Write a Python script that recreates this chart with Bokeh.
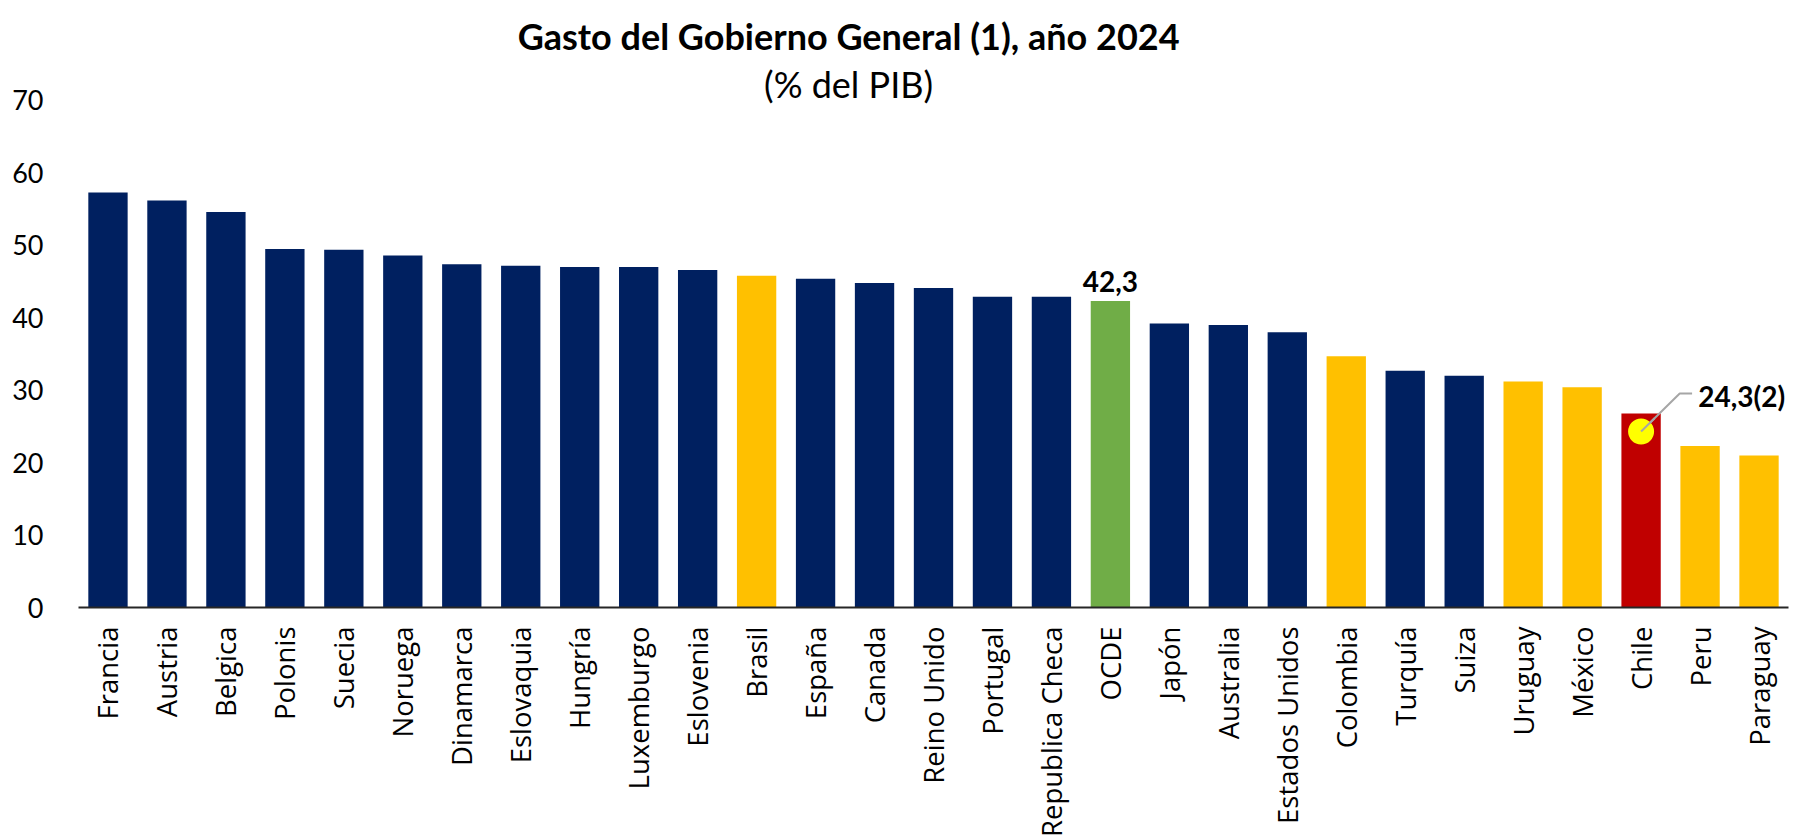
import math
from bokeh.plotting import figure
from bokeh.models import FactorRange, FixedTicker, ColumnDataSource, Range1d, Label
from bokeh.embed import file_html
from bokeh.resources import INLINE
from bokeh.core.properties import value

# ---------------- data ----------------
paises = ["Francia", "Austria", "Belgica", "Polonis", "Suecia", "Noruega", "Dinamarca",
          "Eslovaquia", "Hungría", "Luxemburgo", "Eslovenia", "Brasil", "España", "Canada",
          "Reino Unido", "Portugal", "Republica Checa", "OCDE", "Japón", "Australia",
          "Estados Unidos", "Colombia", "Turquía", "Suiza", "Uruguay", "México", "Chile",
          "Peru", "Paraguay"]
gasto = [57.3, 56.2, 54.6, 49.5, 49.4, 48.6, 47.4, 47.2, 47.0, 47.0, 46.6, 45.8, 45.4, 44.8,
         44.1, 42.9, 42.9, 42.3, 39.2, 39.0, 38.0, 34.7, 32.7, 32.0, 31.2, 30.4, 26.8,
         22.3, 21.0]
grupo = (["ocde"] * 11 + ["latam"] + ["ocde"] * 5 + ["promedio"] + ["ocde"] * 3 + ["latam"]
         + ["ocde"] * 2 + ["latam"] * 2 + ["chile"] + ["latam"] * 2)
colores_grupo = {"ocde": "#002060", "latam": "#FFC000", "promedio": "#70AD47", "chile": "#C00000"}

ocde_pais = "OCDE"
ocde_valor = 42.3
ocde_texto = "42,3"
chile_pais = "Chile"
chile_punto = 24.3
chile_texto = "24,3(2)"

y_ticks = [0, 10, 20, 30, 40, 50, 60, 70]
titulo = "Gasto del Gobierno General (1), año 2024"
subtitulo = "(% del PIB)"

# ---------------- layout ----------------
FRAME_W = 1710
FRAME_H = 599
Y_END = 82.7
PXU = FRAME_H / Y_END          # pixels per data unit

src = ColumnDataSource(dict(pais=paises, gasto=gasto,
                            color=[colores_grupo[g] for g in grupo]))

p = figure(x_range=FactorRange(factors=paises, range_padding=0),
           y_range=Range1d(0, Y_END),
           frame_width=FRAME_W, frame_height=FRAME_H,
           min_border_left=78, min_border_right=14, min_border_top=8, min_border_bottom=0,
           output_backend="svg", toolbar_location=None)

p.vbar(x="pais", top="gasto", width=0.667, fill_color="color", line_color=None, source=src)

# styling
p.xgrid.grid_line_color = None
p.ygrid.grid_line_color = None
p.outline_line_color = None
p.background_fill_color = "white"
p.border_fill_color = "white"

p.yaxis.ticker = FixedTicker(ticks=y_ticks)
p.yaxis.axis_line_color = None
p.yaxis.major_tick_line_color = None
p.yaxis.minor_tick_line_color = None
p.yaxis.major_label_standoff = 29
p.yaxis.major_label_text_font = "Lato"
p.yaxis.major_label_text_font_size = "27px"
p.yaxis.major_label_text_color = "#000000"

p.xaxis.axis_line_color = "#262626"
p.xaxis.axis_line_width = 2
p.xaxis.major_tick_line_color = None
p.xaxis.minor_tick_line_color = None
p.xaxis.major_tick_out = 0
p.xaxis.major_tick_in = 0
p.xaxis.major_label_standoff = 19
p.xaxis.major_label_orientation = math.pi / 2
p.xaxis.major_label_text_font = "Open Sans"
p.xaxis.major_label_text_font_size = "27.5px"
p.xaxis.major_label_text_color = "#000000"

# titles (positioned inside the extended range)
title_x = 13.06
p.text(x=[title_x], y=[Y_END - 27 / PXU], text=[titulo], text_align="center",
       text_baseline="alphabetic", text_font=value("Lato"), text_font_style="bold",
       text_font_size="36px", text_color="#000000")
p.text(x=[title_x], y=[Y_END - 75 / PXU], text=[subtitulo], text_align="center",
       text_baseline="alphabetic", text_font=value("Lato"),
       text_font_size="36px", text_color="#000000")

# OCDE data label
p.text(x=[ocde_pais], y=[ocde_valor + 20 / PXU], text=[ocde_texto], text_align="center",
       text_baseline="alphabetic", text_font=value("Lato"), text_font_style="bold",
       text_font_size="28px", text_color="#000000")

# Chile marker and callout
ci = paises.index(chile_pais) + 0.5
p.line(x=[ci, ci + 0.655, ci + 0.865],
       y=[chile_punto, chile_punto + 38 / PXU, chile_punto + 38 / PXU],
       line_color="#A6A6A6", line_width=2)
p.scatter(x=[ci], y=[chile_punto], size=26, fill_color="#FFFF00", line_color=None)
p.line(x=[ci, ci + 0.655 * 0.35], y=[chile_punto, chile_punto + 38 / PXU * 0.35],
       line_color="#A6A6A6", line_width=2)
p.add_layout(Label(x=ci + 0.97, y=chile_punto + 35.5 / PXU, text=chile_texto,
                   text_align="left", text_baseline="alphabetic", text_font="Lato",
                   text_font_style="bold", text_font_size="28px", text_color="#000000"))

open("out.html", "w").write(file_html(p, INLINE))
